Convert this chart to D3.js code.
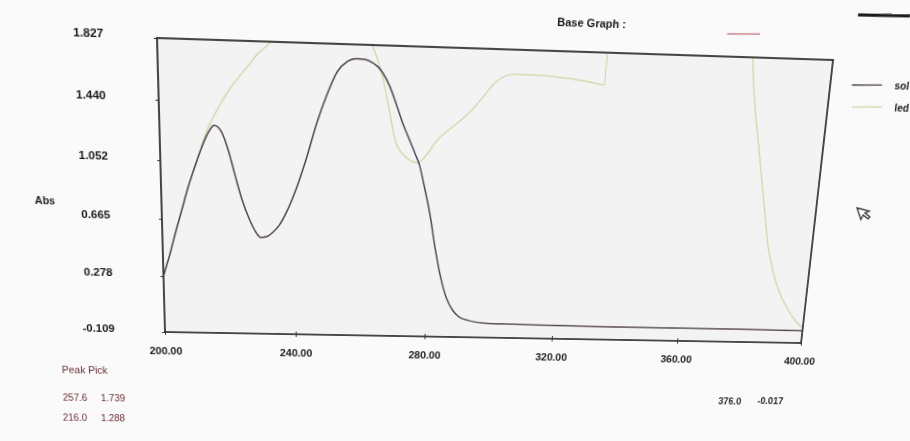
<!DOCTYPE html>
<html>
<head>
<meta charset="utf-8">
<script src="https://cdn.jsdelivr.net/npm/d3@7"></script>
<style>
  html, body { margin: 0; padding: 0; background: #fafafa; overflow: hidden; }
  body { width: 910px; height: 441px; position: relative; }
  #chart { position: absolute; left: 0; top: 0; transform-origin: 0 0; }
  text { font-family: "Liberation Sans", Arial, sans-serif; }
</style>
</head>
<body>
<div id="chart"></div>
<script>

// spectrum "sol" (dark trace)
var solNm  = [200, 202, 204, 206, 208, 210, 212, 214, 216, 218, 220, 222, 224, 226, 228, 229.5, 231, 233, 235, 237,
              240, 243, 246, 249, 252, 255, 257.6, 260, 262, 264, 265.5, 267.5, 269.5, 271.5, 273.5, 275.5, 277, 278.5, 280.5, 282.5,
              284.5, 286.5, 288.5, 290.5, 293.5, 298, 310, 330, 350, 376, 400];
var solAbs = [0.28, 0.42, 0.58, 0.73, 0.88, 1.01, 1.13, 1.23, 1.288, 1.25, 1.13, 0.96, 0.80, 0.68, 0.59, 0.555, 0.56, 0.59, 0.64, 0.72,
              0.88, 1.08, 1.31, 1.50, 1.65, 1.72, 1.739, 1.735, 1.72, 1.69, 1.65, 1.57, 1.46, 1.34, 1.24, 1.14, 1.06, 0.93, 0.74, 0.50,
              0.30, 0.16, 0.08, 0.035, 0.01, -0.005, -0.012, -0.016, -0.017, -0.017, -0.02];

// spectrum "led" (light trace), goes off scale twice
var ledNm  = [200, 202, 204, 206, 208, 210, 212, 214, 217, 220, 223, 226, 228.5, 231, 233, 237, 245, 255, 260, 262,
              265, 267.5, 269.5, 272, 274.5, 276.5, 278.5, 282, 287, 292, 296, 299, 302, 304, 310, 320, 326, 331.4, 332.2, 340,
              370, 374, 375.5, 377.8, 380, 382, 384, 386, 388, 390, 392, 394.3, 397, 400];
var ledAbs = [0.28, 0.42, 0.58, 0.73, 0.88, 1.01, 1.14, 1.26, 1.39, 1.50, 1.59, 1.67, 1.74, 1.79, 1.83, 1.89, 1.96, 1.96, 1.90, 1.83,
              1.66, 1.42, 1.22, 1.13, 1.09, 1.08, 1.12, 1.23, 1.33, 1.43, 1.54, 1.62, 1.66, 1.67, 1.67, 1.655, 1.64, 1.62, 2.4, 2.6,
              2.6, 2.2, 1.83, 1.49, 1.25, 1.02, 0.80, 0.58, 0.43, 0.31, 0.22, 0.14, 0.06, 0.0];

var xTicks = [200, 240, 280, 320, 360, 400];
var xTickLabels = ["200.00", "240.00", "280.00", "320.00", "360.00", "400.00"];
var yTicks = [1.827, 1.440, 1.052, 0.665, 0.278, -0.109];
var yTickLabels = ["1.827", "1.440", "1.052", "0.665", "0.278", "-0.109"];

var peakNm = ["257.6", "216.0"];
var peakAbs = ["1.739", "1.288"];
var cursorNm = "376.0";
var cursorAbs = "-0.017";

var seriesNames = ["sol", "led"];
var seriesColors = ["#53454f", "#cfd7a8"];

// flat drawing size
var w = 910;
var h = 441;
var margin = {top: 40, right: 80, bottom: 106, left: 160};
var plotW = w - margin.left - margin.right;
var plotH = h - margin.top - margin.bottom;

// the printout was photographed at an angle: plot frame corners in the photo (TL, TR, BR, BL)
var quad = [[157, 38], [833, 60], [801, 343], [165, 332]];

function squareToQuad(q) {
  var x0 = q[0][0], y0 = q[0][1], x1 = q[1][0], y1 = q[1][1];
  var x2 = q[2][0], y2 = q[2][1], x3 = q[3][0], y3 = q[3][1];
  var sx = x0 - x1 + x2 - x3, sy = y0 - y1 + y2 - y3;
  var dx1 = x1 - x2, dx2 = x3 - x2, dy1 = y1 - y2, dy2 = y3 - y2;
  var den = dx1 * dy2 - dx2 * dy1;
  var g = (sx * dy2 - dx2 * sy) / den;
  var k = (dx1 * sy - sx * dy1) / den;
  return [[x1 - x0 + g * x1, x3 - x0 + k * x3, x0],
          [y1 - y0 + g * y1, y3 - y0 + k * y3, y0],
          [g, k, 1]];
}

function mul(A, B) {
  var C = [[0, 0, 0], [0, 0, 0], [0, 0, 0]];
  for (var i = 0; i < 3; i++) {
    for (var j = 0; j < 3; j++) {
      for (var k = 0; k < 3; k++) C[i][j] += A[i][k] * B[k][j];
    }
  }
  return C;
}

function inverse(m) {
  var a = m[0][0], b = m[0][1], c = m[0][2], d = m[1][0], e = m[1][1], f = m[1][2], g = m[2][0], hh = m[2][1], i = m[2][2];
  var A = e * i - f * hh, B = -(d * i - f * g), C = d * hh - e * g;
  var det = a * A + b * B + c * C;
  return [[A / det, -(b * i - c * hh) / det, (b * f - c * e) / det],
          [B / det, (a * i - c * g) / det, -(a * f - c * d) / det],
          [C / det, -(a * hh - b * g) / det, (a * e - b * d) / det]];
}

var toUnit = [[1 / plotW, 0, -margin.left / plotW], [0, 1 / plotH, -margin.top / plotH], [0, 0, 1]];
var M = mul(squareToQuad(quad), toUnit);
var Mi = inverse(M);

// photo position -> flat position (for the loose labels)
function flat(p) {
  var x = Mi[0][0] * p[0] + Mi[0][1] * p[1] + Mi[0][2];
  var y = Mi[1][0] * p[0] + Mi[1][1] * p[1] + Mi[1][2];
  var z = Mi[2][0] * p[0] + Mi[2][1] * p[1] + Mi[2][2];
  return [x / z, y / z];
}

d3.select("#chart")
  .style("transform", "matrix3d(" + [M[0][0], M[1][0], 0, M[2][0],
                                      M[0][1], M[1][1], 0, M[2][1],
                                      0, 0, 1, 0,
                                      M[0][2], M[1][2], 0, M[2][2]].join(",") + ")");

var svg = d3.select("#chart")
            .append("svg")
            .attr("width", w + 60)
            .attr("height", h + 20)
            .style("overflow", "visible");

var xScale = d3.scaleLinear()
               .domain([200, 400])
               .range([margin.left, margin.left + plotW]);

var yScale = d3.scaleLinear()
               .domain([-0.109, 1.827])
               .range([margin.top + plotH, margin.top]);

// plot background
svg.append("rect")
   .attr("x", margin.left)
   .attr("y", margin.top)
   .attr("width", plotW)
   .attr("height", plotH)
   .style("fill", "#f3f3f3");

svg.append("clipPath")
   .attr("id", "plotclip")
   .append("rect")
   .attr("x", margin.left)
   .attr("y", margin.top)
   .attr("width", plotW)
   .attr("height", plotH);

// x-axis
svg.append("g")
   .attr("transform", "translate(0," + (margin.top + plotH) + ")")
   .call(d3.axisBottom(xScale)
           .tickValues(xTicks)
           .tickSize(3)
           .tickPadding(13)
           .tickFormat(function(d, i) { return xTickLabels[i]; }))
   .call(function(g) {
     g.select(".domain").remove();
     g.selectAll(".tick line").attr("y1", -3).style("stroke", "#333");
     g.selectAll(".tick text")
      .style("font-size", "11px")
      .style("font-weight", "bold")
      .style("fill", "#1a1a1a");
   });

// y-axis
svg.append("g")
   .attr("transform", "translate(" + margin.left + ",0)")
   .call(d3.axisLeft(yScale)
           .tickValues(yTicks)
           .tickSize(3)
           .tickPadding(48)
           .tickFormat(function(d, i) { return yTickLabels[i]; }))
   .call(function(g) {
     g.select(".domain").remove();
     g.selectAll(".tick line").style("stroke", "#333");
     g.selectAll(".tick text")
      .attr("dy", "0.05em")
      .style("font-size", "11.5px")
      .style("font-weight", "bold")
      .style("fill", "#1a1a1a");
   });

// traces
var line = d3.line()
             .x(function(d) { return xScale(d[0]); })
             .y(function(d) { return yScale(d[1]); })
             .curve(d3.curveMonotoneX);

var traces = [d3.zip(solNm, solAbs), d3.zip(ledNm, ledAbs)];

svg.append("g")
   .attr("clip-path", "url(#plotclip)")
   .selectAll("path")
   .data([traces[1], traces[0]])
   .enter().append("path")
   .attr("d", line)
   .style("fill", "none")
   .style("stroke", function(d, i) { return i == 0 ? seriesColors[1] : seriesColors[0]; })
   .style("stroke-width", function(d, i) { return i == 0 ? 1.3 : 1.5; });

// frame
svg.append("rect")
   .attr("x", margin.left)
   .attr("y", margin.top)
   .attr("width", plotW)
   .attr("height", plotH)
   .style("fill", "none")
   .style("stroke", "#333")
   .style("stroke-width", 1.8);

// loose labels, placed where they sit in the photo
function addText(p, txt, size, weight, color) {
  var q = flat(p);
  return svg.append("text")
            .attr("x", q[0])
            .attr("y", q[1])
            .style("font-size", size + "px")
            .style("font-weight", weight)
            .style("fill", color)
            .text(txt);
}

function addLine(p1, p2, color, width) {
  var a = flat(p1), b = flat(p2);
  svg.append("line")
     .attr("x1", a[0]).attr("y1", a[1])
     .attr("x2", b[0]).attr("y2", b[1])
     .style("stroke", color)
     .style("stroke-width", width);
}

addText([35, 204], "Abs", 10.5, "bold", "#1a1a1a");
addText([557, 26], "Base Graph :", 11, "bold", "#1a1a1a");
addLine([727, 34], [760, 34], "#c7707c", 1.2);
addLine([858, 15], [910, 16], "#1a1a1a", 3);

// legend
seriesNames.forEach(function(name, i) {
  var y = 85 + i * 22;
  addLine([852, y], [882, y], seriesColors[i], 1.3);
  addText([894, y + 4], name, 10.5, "bold", "#1a1a1a");
});

// peak pick table
addText([62, 373], "Peak Pick", 10.5, "normal", "#6a2a36");
peakNm.forEach(function(d, i) {
  addText([63, 401 + i * 20], d, 10, "normal", "#6a2a36");
  addText([101, 401 + i * 20], peakAbs[i], 10, "normal", "#6a2a36");
});

// cursor readout
addText([718, 404], cursorNm, 10, "bold", "#2a2a2a");
addText([757, 404], cursorAbs, 10, "bold", "#2a2a2a");

// mouse pointer left on screen
var ptr = flat([857, 208]);
svg.append("path")
   .attr("transform", "translate(" + ptr[0] + "," + ptr[1] + ") rotate(-25) scale(1.2)")
   .attr("d", "M0,0 L0,11 L3,8 L6,13 L8,12 L5,7 L9,7 Z")
   .style("fill", "#fff")
   .style("stroke", "#333")
   .style("stroke-width", 1.1);

</script>
</body>
</html>
